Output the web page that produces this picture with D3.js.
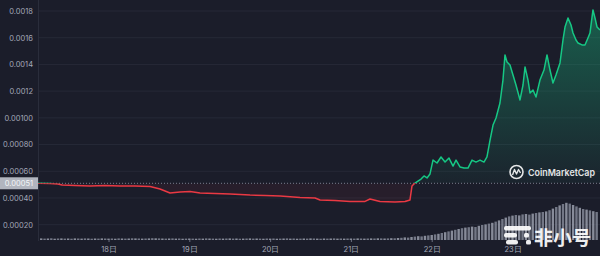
<!DOCTYPE html>
<html>
<head>
<meta charset="utf-8">
<script src="https://cdn.jsdelivr.net/npm/d3@7"></script>
<style>
  html, body { margin: 0; padding: 0; background: #1b1d2a; }
  svg { display: block; }
  .tick text { font-family: Inter, "Noto Sans", sans-serif; }
</style>
</head>
<body>
<div id="chart"></div>
<script>
// ---------------------------------------------------------------------------
// DATA
// ---------------------------------------------------------------------------
// price points: [day of month, price USD]
const pricePoints = [
  [17.127, 0.000510], [17.276, 0.000508], [17.375, 0.000505], [17.425, 0.000497],
  [17.585, 0.000493], [17.771, 0.000490], [17.957, 0.000493], [18.142, 0.000490],
  [18.328, 0.000490], [18.514, 0.000486], [18.637, 0.000467], [18.761, 0.000437],
  [18.885, 0.000445], [19.009, 0.000449], [19.132, 0.000437], [19.318, 0.000434],
  [19.504, 0.000430], [19.751, 0.000422], [19.937, 0.000419], [20.123, 0.000415],
  [20.370, 0.000404], [20.556, 0.000400], [20.618, 0.000385], [20.803, 0.000381],
  [20.989, 0.000374], [21.175, 0.000374], [21.236, 0.000392], [21.360, 0.000374],
  [21.546, 0.000370], [21.670, 0.000374], [21.731, 0.000385], [21.756, 0.000490],
  [21.793, 0.000512], [21.830, 0.000527], [21.868, 0.000542], [21.905, 0.000565],
  [21.942, 0.000550], [21.979, 0.000580], [22.016, 0.000684], [22.066, 0.000662],
  [22.115, 0.000707], [22.165, 0.000669], [22.214, 0.000699], [22.264, 0.000639],
  [22.301, 0.000684], [22.350, 0.000632], [22.400, 0.000624], [22.449, 0.000624],
  [22.499, 0.000684], [22.548, 0.000669], [22.598, 0.000684], [22.647, 0.000669],
  [22.684, 0.000707], [22.722, 0.000834], [22.759, 0.000946], [22.796, 0.000999],
  [22.845, 0.001111], [22.882, 0.001283], [22.907, 0.001471], [22.932, 0.001418],
  [22.969, 0.001396], [23.006, 0.001321], [23.043, 0.001246], [23.093, 0.001134],
  [23.130, 0.001246], [23.155, 0.001381], [23.192, 0.001283], [23.217, 0.001186],
  [23.254, 0.001209], [23.291, 0.001156], [23.340, 0.001283], [23.390, 0.001358],
  [23.427, 0.001471], [23.464, 0.001358], [23.501, 0.001261], [23.538, 0.001321],
  [23.588, 0.001411], [23.625, 0.001583], [23.650, 0.001680], [23.687, 0.001748],
  [23.724, 0.001695], [23.749, 0.001635], [23.786, 0.001583], [23.811, 0.001560],
  [23.860, 0.001546], [23.897, 0.001546], [23.934, 0.001598], [23.959, 0.001635],
  [23.996, 0.001808], [24.021, 0.001748], [24.046, 0.001680], [24.083, 0.001658]
];

const openPrice = 0.00051;
const openLabel = "0.00051";

// hourly volume (relative units), first bar at day 17 04:00
const volStartDay = 17 + 4 / 24;
const volumes = [
  1.6,1.4,1.5,1.7,1.3,1.5,1.6,1.4,1.5,1.3,1.6,1.5,1.4,1.6,1.5,1.3,1.5,1.4,1.6,1.5,
  1.4,1.5,1.3,1.6,1.5,1.4,1.5,1.7,1.6,1.5,1.4,1.5,1.6,1.8,1.7,1.6,1.5,1.4,1.5,1.6,1.4,1.5,1.3,1.4,
  1.5,1.4,1.3,1.5,1.4,1.6,1.5,1.4,1.3,1.5,1.4,1.5,1.6,1.4,1.5,1.3,1.4,1.5,1.6,1.4,1.5,1.4,1.3,1.5,
  1.4,1.5,1.3,1.4,1.5,1.6,1.4,1.5,1.3,1.4,1.5,1.4,1.6,1.5,1.4,1.3,1.5,1.4,1.5,1.6,1.4,1.5,1.4,1.5,
  1.5,1.4,1.6,1.5,1.4,1.5,1.6,1.5,1.7,1.6,1.5,1.6,1.8,1.7,2.0,2.2,2.6,2.4,3.0,3.4,3.8,3.6,4.2,4.6,
  5.0,5.6,6.2,7.0,7.8,8.6,9.4,10.2,11.0,11.8,12.4,12.8,13.4,13.0,14.2,15.0,15.6,16.4,17.2,18.4,19.6,21.0,22.4,23.6,
  24.4,25.0,24.6,25.6,26.0,25.4,26.4,27.0,27.6,28.0,28.6,29.8,31.4,33.0,34.6,36.0,37.2,36.4,35.0,33.6,32.2,31.0,30.4,29.6,28.8,28.0
];

const yTicks  = [0.0002, 0.0004, 0.0006, 0.0008, 0.0010, 0.0012, 0.0014, 0.0016, 0.0018];
const yLabels = ["0.00020", "0.00040", "0.00060", "0.00080", "0.00100", "0.0012", "0.0014", "0.0016", "0.0018"];
const dayTicks = [18, 19, 20, 21, 22, 23];

// ---------------------------------------------------------------------------
// SVG setup
// ---------------------------------------------------------------------------
const W = 600, H = 256;
const green = "#16c784", red = "#ea3943";

const svg = d3.select("#chart").append("svg")
  .attr("width", W).attr("height", H);

svg.append("rect").attr("width", W).attr("height", H).attr("fill", "#1b1d2a");

const x = d3.scaleLinear().domain([pricePoints[0][0], pricePoints[pricePoints.length - 1][0]]).range([38, 600]);
const y = d3.scaleLinear().domain([0, 0.0018]).range([251.4, 11]);
const yVol = d3.scaleLinear().domain([0, 40]).range([240, 200]);

const baseY = y(openPrice);

// grid
svg.append("g").selectAll("line").data(yTicks).join("line")
  .attr("x1", 38).attr("x2", W)
  .attr("y1", d => y(d)).attr("y2", d => y(d))
  .attr("stroke", "#262937").attr("stroke-width", 1);

svg.append("line").attr("x1", 38.5).attr("x2", 38.5).attr("y1", 0).attr("y2", 241)
  .attr("stroke", "#2a2d3b");

// volume bars
svg.append("g").selectAll("rect").data(volumes).join("rect")
  .attr("x", (d, i) => x(volStartDay + i / 24) - 1.2)
  .attr("width", 2.4)
  .attr("y", d => yVol(d))
  .attr("height", d => yVol(0) - yVol(d))
  .attr("fill", (d, i) => i % 2 ? "#8a8f9d" : "#a3a8b5")
  .attr("opacity", 0.8);

// clips above / below opening price
const defs = svg.append("defs");
defs.append("clipPath").attr("id", "clipUp")
  .append("rect").attr("x", 0).attr("y", 0).attr("width", W).attr("height", baseY);
defs.append("clipPath").attr("id", "clipDown")
  .append("rect").attr("x", 0).attr("y", baseY).attr("width", W).attr("height", H - baseY);

const grad = defs.append("linearGradient").attr("id", "gUp")
  .attr("gradientUnits", "userSpaceOnUse")
  .attr("x1", 0).attr("x2", 0).attr("y1", y(0.0018)).attr("y2", baseY);
grad.append("stop").attr("offset", 0).attr("stop-color", green).attr("stop-opacity", 0.38);
grad.append("stop").attr("offset", 1).attr("stop-color", green).attr("stop-opacity", 0.04);

const area = d3.area()
  .x(d => x(d[0])).y0(baseY).y1(d => y(d[1]));
const line = d3.line()
  .x(d => x(d[0])).y(d => y(d[1]));

svg.append("path").datum(pricePoints).attr("d", area)
  .attr("fill", "url(#gUp)").attr("clip-path", "url(#clipUp)");
svg.append("path").datum(pricePoints).attr("d", area)
  .attr("fill", red).attr("fill-opacity", 0.06).attr("clip-path", "url(#clipDown)");

// opening price dotted line
svg.append("line").attr("x1", 38).attr("x2", W).attr("y1", baseY).attr("y2", baseY)
  .attr("stroke", "#7a7f8e").attr("stroke-width", 1).attr("stroke-dasharray", "1,2");

svg.append("path").datum(pricePoints).attr("d", line)
  .attr("fill", "none").attr("stroke", green).attr("stroke-width", 1.5)
  .attr("stroke-linejoin", "round").attr("clip-path", "url(#clipUp)");
svg.append("path").datum(pricePoints).attr("d", line)
  .attr("fill", "none").attr("stroke", red).attr("stroke-width", 1.5)
  .attr("stroke-linejoin", "round").attr("clip-path", "url(#clipDown)");

// axes
const yAxis = svg.append("g").attr("transform", "translate(38,0)")
  .call(d3.axisLeft(y).tickValues(yTicks).tickFormat((d, i) => yLabels[i]).tickSize(0).tickPadding(5));
yAxis.select(".domain").remove();
yAxis.selectAll("text").attr("fill", "#a3a8b8").style("font-size", "7.5px");

const xAxis = svg.append("g").attr("transform", "translate(0,240)")
  .call(d3.axisBottom(x).tickValues(dayTicks).tickFormat(d => d + "日").tickSize(2));
xAxis.select(".domain").remove();
xAxis.selectAll("line").attr("stroke", "#6b7080");
xAxis.selectAll("text").attr("y", 12).attr("dy", 0)
  .attr("fill", "#a3a8b8").style("font-size", "7.5px");

// opening price label
svg.append("rect").attr("x", 0).attr("y", baseY - 6).attr("width", 38).attr("height", 12)
  .attr("fill", "#b1b5bf");
svg.append("text").attr("x", 19).attr("y", baseY + 2.7).attr("text-anchor", "middle")
  .attr("fill", "#f5f6f8").style("font-family", "Inter, sans-serif").style("font-size", "7.5px")
  .text(openLabel);

// watermarks
const wm = svg.append("g").attr("fill", "#ffffff").attr("opacity", 0.88);
wm.append("circle").attr("cx", 516.5).attr("cy", 172).attr("r", 6.5)
  .attr("fill", "none").attr("stroke", "#fff").attr("stroke-width", 1.6);
wm.append("path").attr("d", "M512.5,175 L514.5,169.5 L516.5,174 L518.5,169.5 L520.5,173")
  .attr("fill", "none").attr("stroke", "#fff").attr("stroke-width", 1.4)
  .attr("stroke-linejoin", "round");
wm.append("text").attr("x", 528).attr("y", 175.5)
  .attr("textLength", 67).attr("lengthAdjust", "spacingAndGlyphs")
  .style("font-family", "Inter, 'Noto Sans', sans-serif").style("font-size", "9.5px")
  .style("font-weight", 600).text("CoinMarketCap");

const fx = svg.append("g").attr("fill", "#ffffff").attr("opacity", 0.92);
fx.append("rect").attr("x", 504).attr("y", 226).attr("width", 27).attr("height", 4.5).attr("rx", 2);
fx.append("rect").attr("x", 504).attr("y", 233).attr("width", 13).attr("height", 4.5).attr("rx", 2);
fx.append("rect").attr("x", 524).attr("y", 233).attr("width", 5).attr("height", 4.5).attr("rx", 1.5);
fx.append("rect").attr("x", 506).attr("y", 240).attr("width", 12).attr("height", 4.5).attr("rx", 2);
fx.append("rect").attr("x", 526).attr("y", 240).attr("width", 5).attr("height", 4.5).attr("rx", 1.5);
fx.append("text").attr("x", 534).attr("y", 245)
  .style("font-family", "'Noto Sans CJK SC', sans-serif").style("font-size", "19px")
  .style("font-weight", 700).text("非小号");
</script>
</body>
</html>
